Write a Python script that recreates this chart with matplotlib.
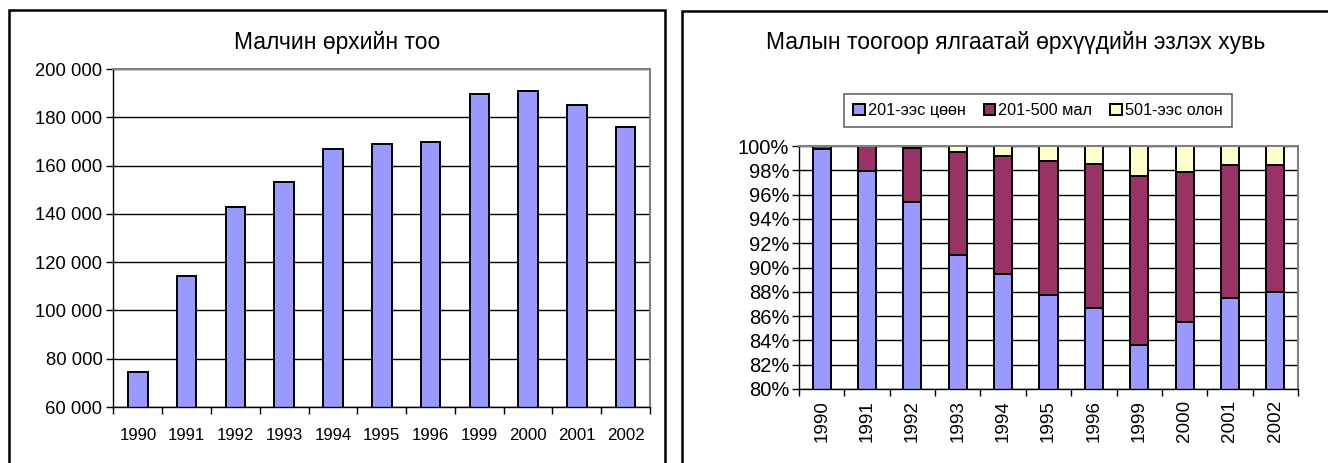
import numpy as np
import matplotlib
matplotlib.use("Agg")
import matplotlib.pyplot as plt
from matplotlib.patches import Rectangle
from matplotlib.ticker import FuncFormatter

plt.rcParams['font.family'] = ['Liberation Sans', 'DejaVu Sans']

# data
years = ['1990', '1991', '1992', '1993', '1994', '1995', '1996',
         '1999', '2000', '2001', '2002']
households = [74500, 114400, 143000, 153000, 167000, 169000, 169700,
              189800, 191000, 185100, 175800]

# shares, percent
small = [99.73, 97.94, 95.37, 91.03, 89.44, 87.76, 86.67, 83.60, 85.50, 87.51, 87.98]
medium = [0.27, 2.06, 4.44, 8.47, 9.76, 11.03, 11.85, 13.93, 12.38, 10.90, 10.46]
large = [0.00, 0.00, 0.19, 0.50, 0.80, 1.21, 1.48, 2.47, 2.12, 1.59, 1.56]
legend_labels = ['201-ээс цөөн', '201-500 мал', '501-ээс олон']

c_blue = '#9999FF'
c_maroon = '#993366'
c_yellow = '#FFFFCC'

W, H = 1328, 463
fig = plt.figure(figsize=(W / 100, H / 100), dpi=100)


def px_axes(x0, y0, x1, y1):
    # pixel box (top-left origin) -> figure fraction axes
    return fig.add_axes([x0 / W, 1 - y1 / H, (x1 - x0) / W, (y1 - y0) / H])


# outer frames
fig.patches.append(Rectangle((9 / W, -0.1), (665 - 9) / W, 1.1 - 10 / H,
                             transform=fig.transFigure, fill=False,
                             edgecolor='black', lw=1.8))
fig.patches.append(Rectangle((682 / W, -0.1), 0.5, 1.1 - 11 / H,
                             transform=fig.transFigure, fill=False,
                             edgecolor='black', lw=1.8))

x = np.arange(len(years))


def style_axes(ax):
    ax.set_xlim(-0.5, len(years) - 0.5)
    ax.set_xticks(np.arange(len(years) + 1) - 0.5)
    ax.set_xticklabels([])
    ax.set_xticks(x, minor=True)
    ax.tick_params(axis='x', which='major', direction='out', length=5, width=1)
    ax.tick_params(axis='x', which='minor', length=0)
    ax.tick_params(axis='y', direction='out', length=5, width=1, pad=3)
    ax.yaxis.grid(True, color='black', lw=1)
    ax.set_axisbelow(True)
    for s in ['top', 'right']:
        ax.spines[s].set_color('#808080')
        ax.spines[s].set_linewidth(1.5)
    for s in ['left', 'bottom']:
        ax.spines[s].set_color('black')
        ax.spines[s].set_linewidth(1)


# left chart
ax1 = px_axes(113.5, 69, 650, 407)
ax1.bar(x, households, width=0.4, bottom=0, color=c_blue,
        edgecolor='black', lw=1.4)
ax1.set_ylim(60000, 200000)
ax1.set_yticks(range(60000, 200001, 20000))
ax1.yaxis.set_major_formatter(FuncFormatter(lambda v, p: f"{int(v):,}".replace(',', ' ')))
style_axes(ax1)
ax1.set_xticklabels(years, minor=True, fontsize=12.2)
ax1.tick_params(axis='x', which='minor', pad=15)
ax1.tick_params(axis='y', labelsize=13.3)
fig.text(337 / W, 1 - 43 / H, 'Малчин өрхийн тоо', ha='center', va='center',
         fontsize=16.5)

# right chart
ax2 = px_axes(799, 146, 1298, 389)
b1 = ax2.bar(x, small, width=0.4, color=c_blue, edgecolor='black', lw=1.4)
b2 = ax2.bar(x, medium, width=0.4, bottom=small, color=c_maroon,
             edgecolor='black', lw=1.4)
b3 = ax2.bar(x, large, width=0.4, bottom=np.add(small, medium), color=c_yellow,
             edgecolor='black', lw=1.4)
ax2.set_ylim(80, 100)
ax2.set_yticks(range(80, 101, 2))
ax2.yaxis.set_major_formatter(FuncFormatter(lambda v, p: f"{int(v)}%"))
style_axes(ax2)
ax2.set_xticklabels(years, minor=True, fontsize=13.6, rotation=90)
ax2.tick_params(axis='x', which='minor', pad=8)
ax2.tick_params(axis='y', labelsize=14.5, pad=2)
fig.text(1016 / W, 1 - 43 / H, 'Малын тоогоор ялгаатай өрхүүдийн эзлэх хувь',
         ha='center', va='center', fontsize=16.5)

leg = fig.legend([b1, b2, b3], legend_labels, ncol=3, loc='center',
                 bbox_to_anchor=((847 + 1229) / 2 / W, 1 - 110.5 / H),
                 fontsize=11.7, frameon=True, fancybox=False,
                 handlelength=0.7, handleheight=0.7, handletextpad=0.2,
                 columnspacing=1.1, borderpad=0.55)
leg.get_frame().set_edgecolor('#404040')
leg.get_frame().set_linewidth(1.2)

fig.savefig('out.png', dpi=100)
